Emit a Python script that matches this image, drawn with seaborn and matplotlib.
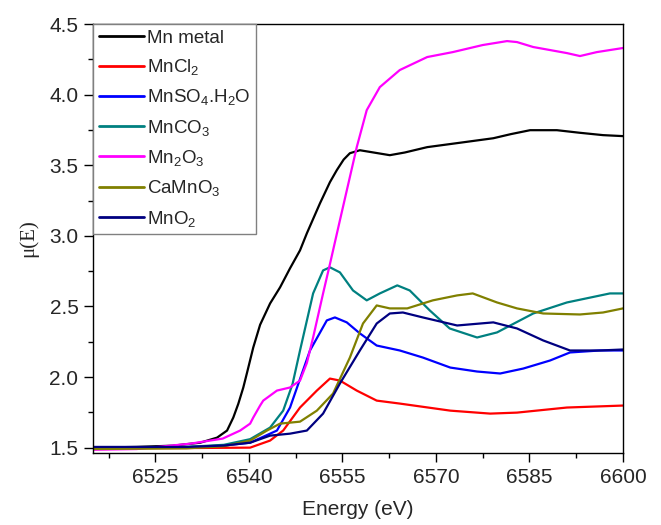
import matplotlib
matplotlib.use("Agg")
import matplotlib.pyplot as plt
from matplotlib.ticker import MultipleLocator
import seaborn as sns
import pandas as pd

# ---------------- data ----------------
samples = ["Mn metal", "MnCl$_2$", "MnSO$_4$.H$_2$O", "MnCO$_3$",
           "Mn$_2$O$_3$", "CaMnO$_3$", "MnO$_2$"]
colors = ["#000000", "#FF0000", "#0000FF", "#008080",
          "#FF00FF", "#808000", "#000080"]

mn_metal_E = [6515, 6522, 6527.8, 6532.2, 6534.9, 6536.5, 6537.5, 6538.3, 6539.1,
              6539.7, 6540.7, 6541.8, 6543.4, 6545.0, 6546.6, 6548.2, 6549.3,
              6551.4, 6553.0, 6554.1, 6555.2, 6556.2, 6557.8, 6560.0, 6562.6,
              6565.0, 6568.6, 6574.0, 6579.2, 6582.0, 6585.1, 6589.4, 6593.0,
              6596.8, 6600]
mn_metal_mu = [1.50, 1.505, 1.514, 1.535, 1.571, 1.621, 1.713, 1.810, 1.925,
               2.030, 2.209, 2.370, 2.521, 2.635, 2.770, 2.897, 3.018,
               3.230, 3.380, 3.465, 3.540, 3.585, 3.606, 3.590, 3.571,
               3.590, 3.628, 3.660, 3.691, 3.720, 3.748, 3.748, 3.730,
               3.713, 3.706]

mncl2_E = [6515, 6530, 6540.2, 6543.4, 6545.5, 6548.2, 6550.9, 6553.0, 6554.6,
           6557.3, 6560.5, 6564.2, 6572.3, 6578.7, 6583.0, 6591.0, 6600]
mncl2_mu = [1.495, 1.497, 1.500, 1.550, 1.621, 1.784, 1.904, 1.989, 1.975,
            1.904, 1.833, 1.812, 1.762, 1.741, 1.748, 1.784, 1.798]

mnso4_E = [6515, 6530, 6536, 6540.2, 6544.5, 6546.6, 6549.8, 6552.5, 6553.8,
           6555.7, 6557.8, 6560.5, 6564.2, 6567.9, 6572.3, 6576.6, 6580.3,
           6584.0, 6588.3, 6591.5, 6596.3, 6600]
mnso4_mu = [1.50, 1.503, 1.515, 1.535, 1.621, 1.784, 2.188, 2.401, 2.422,
            2.387, 2.309, 2.223, 2.188, 2.138, 2.067, 2.039, 2.025,
            2.060, 2.117, 2.174, 2.188, 2.188]

mnco3_E = [6515, 6530, 6536, 6540.2, 6543.4, 6545.5, 6547.0, 6548.2, 6550.3,
           6551.9, 6553.0, 6554.6, 6556.7, 6558.9, 6561.0, 6563.8, 6565.8,
           6569.0, 6572.2, 6576.6, 6579.8, 6585.6, 6591.0, 6597.9, 6600]
mnco3_mu = [1.50, 1.505, 1.52, 1.56, 1.642, 1.762, 1.95, 2.188, 2.592,
            2.755, 2.777, 2.741, 2.613, 2.543, 2.592, 2.649, 2.613,
            2.472, 2.344, 2.280, 2.316, 2.450, 2.528, 2.592, 2.592]

mn2o3_E = [6515, 6522, 6530.6, 6535.8, 6538.6, 6540.2, 6540.7, 6541.8, 6542.3,
           6544.5, 6546.6, 6548.2, 6549.3, 6550.3, 6551.9, 6553.0, 6554.6,
           6557.3, 6558.9, 6561.0, 6564.2, 6568.6, 6572.7, 6577.5, 6581.4,
           6583.0, 6585.6, 6591.0, 6593.1, 6595.8, 6600]
mn2o3_mu = [1.485, 1.49, 1.528, 1.564, 1.621, 1.670, 1.713, 1.798, 1.833,
            1.904, 1.926, 1.975, 2.100, 2.280, 2.592, 2.800, 3.110,
            3.628, 3.890, 4.053, 4.174, 4.266, 4.301, 4.351, 4.379,
            4.372, 4.337, 4.294, 4.273, 4.301, 4.330]

camno3_E = [6515, 6530, 6536, 6540.2, 6542.9, 6545.0, 6548.2, 6550.9, 6553.5,
            6556.2, 6558.3, 6560.5, 6562.6, 6565.4, 6569.5, 6573.4, 6575.9,
            6579.8, 6583.0, 6587.2, 6593.1, 6596.8, 6600]
camno3_mu = [1.49, 1.495, 1.51, 1.55, 1.621, 1.670, 1.684, 1.762, 1.883,
             2.138, 2.379, 2.507, 2.486, 2.486, 2.543, 2.578, 2.592,
             2.528, 2.486, 2.450, 2.443, 2.457, 2.486]

mno2_E = [6515, 6530, 6536, 6540.2, 6543.4, 6546.6, 6549.3, 6551.9, 6554.6,
          6557.8, 6560.5, 6562.6, 6564.7, 6567.9, 6573.4, 6579.2, 6583.0,
          6587.2, 6591.5, 6596.3, 6600]
mno2_mu = [1.505, 1.505, 1.515, 1.535, 1.585, 1.599, 1.621, 1.741, 1.954,
           2.188, 2.379, 2.450, 2.457, 2.422, 2.365, 2.387, 2.344,
           2.259, 2.188, 2.188, 2.195]

x_ticks = [6525, 6540, 6555, 6570, 6585, 6600]
y_ticks = [1.5, 2.0, 2.5, 3.0, 3.5, 4.0, 4.5]

series = [(mn_metal_E, mn_metal_mu), (mncl2_E, mncl2_mu), (mnso4_E, mnso4_mu),
          (mnco3_E, mnco3_mu), (mn2o3_E, mn2o3_mu), (camno3_E, camno3_mu),
          (mno2_E, mno2_mu)]

frames = []
for name, (e, m) in zip(samples, series):
    frames.append(pd.DataFrame({"E": e, "mu": m, "sample": name}))
df = pd.concat(frames, ignore_index=True)

# ---------------- style ----------------
sns.set_style("ticks")
plt.rcParams["font.family"] = ["Liberation Sans", "DejaVu Sans"]
plt.rcParams["mathtext.default"] = "regular"

fig = plt.figure(figsize=(6.61, 5.25), dpi=100)
ax = fig.add_axes([93 / 661, 1 - 453 / 525, (623 - 93) / 661, (453 - 24) / 525])

sns.lineplot(data=df, x="E", y="mu", hue="sample", hue_order=samples,
             palette=colors, sort=False, estimator=None, linewidth=1.6, ax=ax)

ax.set_xlim(6515, 6600)
ax.set_ylim(1.462, 4.5)
ax.set_xticks(x_ticks)
ax.set_yticks(y_ticks)
ax.set_yticklabels([f"{v:.1f}" for v in y_ticks])
ax.xaxis.set_minor_locator(MultipleLocator(7.5))
ax.yaxis.set_minor_locator(MultipleLocator(0.25))
ax.tick_params(axis="both", which="major", direction="out", length=6.5,
               width=1.0, labelsize=15, pad=4, color="black")
ax.tick_params(axis="both", which="minor", direction="out", length=3.5,
               width=1.0, color="black")
for s in ax.spines.values():
    s.set_visible(True)
    s.set_color("black")
    s.set_linewidth(1.0)

ax.set_xlabel("Energy (eV)", fontsize=15, labelpad=10)
ax.set_ylabel("μ(E)", fontsize=15, family=["Liberation Serif", "DejaVu Serif"],
              labelpad=8)

handles, labels = ax.get_legend_handles_labels()
leg = ax.legend(handles, labels, loc="upper left", bbox_to_anchor=(0, 1),
                borderaxespad=0, fontsize=13.5, frameon=True, fancybox=False,
                framealpha=1, edgecolor="#808080", handlelength=2.4,
                handletextpad=0.2, labelspacing=0.55, borderpad=0.3)
leg.get_frame().set_linewidth(1.0)
for line in leg.get_lines():
    line.set_linewidth(2.0)

fig.savefig("out.png", dpi=100)
